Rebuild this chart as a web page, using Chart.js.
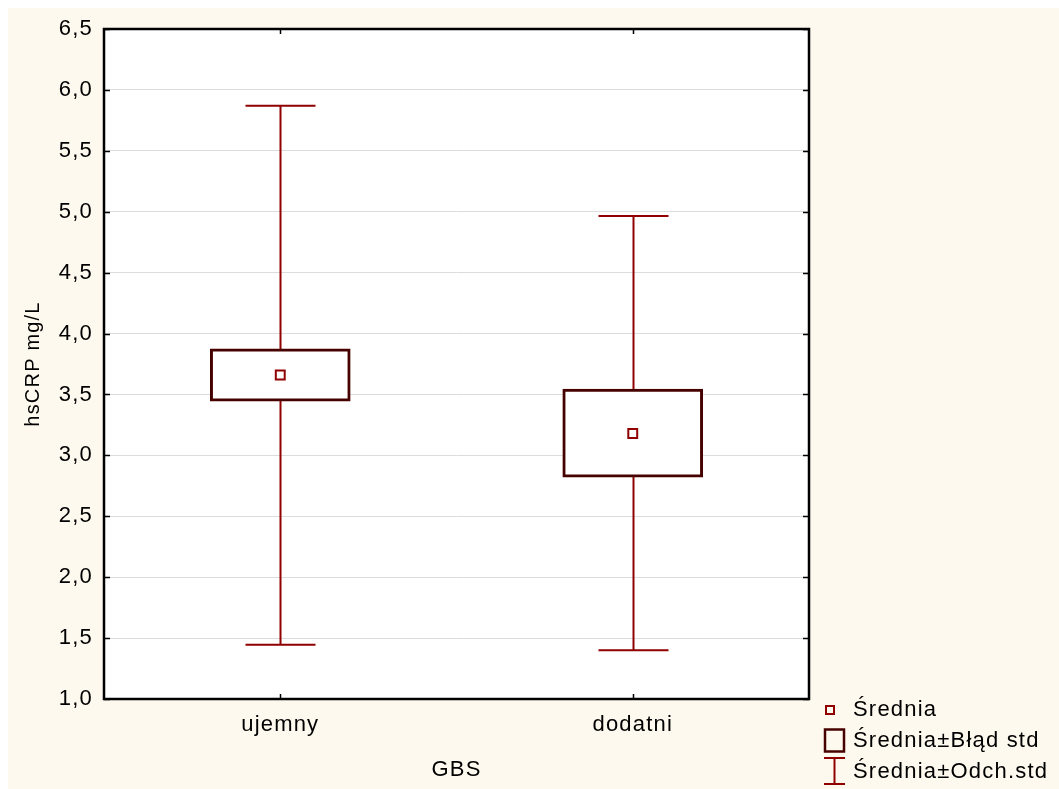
<!DOCTYPE html>
<html>
<head>
<meta charset="utf-8">
<script src="https://cdn.jsdelivr.net/npm/chart.js@4"></script>
<style>
  html, body { margin: 0; padding: 0; background: #ffffff; }
  #wrap { position: relative; width: 1059px; height: 789px; overflow: hidden; }
  #panel { position: absolute; left: 8px; top: 8px; right: 0; bottom: 0; background: #fef9ee; }
  #c { position: absolute; left: 0; top: 0; }
</style>
</head>
<body>
<div id="wrap">
  <div id="panel"></div>
  <canvas id="c" width="1059" height="789"></canvas>
</div>
<script>
// hsCRP by GBS status: mean, mean ± standard error, mean ± standard deviation
const groups = ['ujemny', 'dodatni'];
const means = [3.66, 3.18];
const seLow = [3.445, 2.82];
const seHigh = [3.875, 3.545];
const sdLow = [1.445, 1.40];
const sdHigh = [5.87, 4.965];
const yTicks = [1.0, 1.5, 2.0, 2.5, 3.0, 3.5, 4.0, 4.5, 5.0, 5.5, 6.0, 6.5];

const FONT = '"Liberation Sans", Arial, sans-serif';
const WHISKER = '#900000';
const BOXLINE = '#470000';
const MEANCOL = '#900000';
const TEXT_SIZE = 22;

const fmt = v => Number(v).toFixed(1).replace('.', ',');

// Slightly widened character spacing for all canvas text
const spacing = {
  id: 'spacing',
  beforeUpdate(chart) { chart.ctx.letterSpacing = '1.2px'; },
  beforeDraw(chart) { chart.ctx.letterSpacing = '1.2px'; }
};

// White plot area on the cream page
const plotBg = {
  id: 'plotBg',
  beforeDraw(chart) {
    const { ctx, chartArea: a } = chart;
    ctx.save();
    ctx.fillStyle = '#ffffff';
    ctx.fillRect(a.left, a.top, a.right - a.left, a.bottom - a.top);
    ctx.restore();
  }
};

// Standard-deviation whiskers, drawn under the boxes
const whiskers = {
  id: 'whiskers',
  beforeDatasetsDraw(chart) {
    const { ctx, scales: { x, y } } = chart;
    ctx.save();
    ctx.strokeStyle = WHISKER;
    ctx.lineWidth = 2;
    const half = 35;
    groups.forEach((g, i) => {
      const px = Math.round(x.getPixelForValue(i)) + 0.5;
      const lo = y.getPixelForValue(sdLow[i]);
      const hi = y.getPixelForValue(sdHigh[i]);
      ctx.beginPath();
      ctx.moveTo(px, lo); ctx.lineTo(px, hi);
      ctx.moveTo(px - half, hi); ctx.lineTo(px + half, hi);
      ctx.moveTo(px - half, lo); ctx.lineTo(px + half, lo);
      ctx.stroke();
    });
    ctx.restore();
  }
};

// Plot frame, inward tick marks and the legend
const frame = {
  id: 'frame',
  afterDraw(chart) {
    const { ctx, chartArea: a, scales: { x, y } } = chart;
    ctx.save();
    ctx.strokeStyle = '#000';
    ctx.lineWidth = 1.5;
    ctx.beginPath();
    yTicks.forEach(v => {
      const py = Math.round(y.getPixelForValue(v)) + 0.5;
      ctx.moveTo(a.left, py); ctx.lineTo(a.left + 6, py);
      ctx.moveTo(a.right, py); ctx.lineTo(a.right - 6, py);
    });
    groups.forEach((g, i) => {
      const px = Math.round(x.getPixelForValue(i)) + 0.5;
      ctx.moveTo(px, a.top); ctx.lineTo(px, a.top + 5);
      ctx.moveTo(px, a.bottom); ctx.lineTo(px, a.bottom - 5);
    });
    ctx.stroke();
    ctx.lineWidth = 2.5;
    ctx.strokeRect(a.left, a.top, a.right - a.left, a.bottom - a.top);

    // legend
    const tx = 853;
    ctx.font = TEXT_SIZE + 'px ' + FONT;
    ctx.fillStyle = '#000';
    ctx.textBaseline = 'middle';
    ctx.textAlign = 'left';
    ctx.fillText('Średnia', tx, 710);
    ctx.fillText('Średnia±Błąd std', tx, 741);
    ctx.fillText('Średnia±Odch.std', tx, 772);

    ctx.strokeStyle = MEANCOL;
    ctx.lineWidth = 2;
    ctx.strokeRect(826, 706, 8, 8);

    ctx.strokeStyle = BOXLINE;
    ctx.lineWidth = 2.5;
    ctx.strokeRect(825, 729.5, 19, 22);

    ctx.strokeStyle = WHISKER;
    ctx.lineWidth = 2;
    ctx.beginPath();
    ctx.moveTo(834.5, 758); ctx.lineTo(834.5, 784);
    ctx.moveTo(824, 758); ctx.lineTo(845, 758);
    ctx.moveTo(824, 784); ctx.lineTo(845, 784);
    ctx.stroke();
    ctx.restore();
  }
};

new Chart(document.getElementById('c'), {
  type: 'bar',
  data: {
    labels: groups,
    datasets: [
      {
        type: 'line',
        label: 'Średnia',
        data: means,
        showLine: false,
        pointStyle: 'rect',
        pointRadius: 6.3,
        pointBorderWidth: 2,
        pointBorderColor: MEANCOL,
        pointBackgroundColor: '#ffffff',
        order: 0
      },
      {
        label: 'Średnia±Błąd std',
        data: groups.map((g, i) => [seLow[i], seHigh[i]]),
        backgroundColor: '#ffffff',
        borderColor: BOXLINE,
        borderWidth: 3,
        borderSkipped: false,
        barThickness: 140,
        grouped: false,
        order: 1
      }
    ]
  },
  options: {
    responsive: false,
    devicePixelRatio: 1,
    animation: false,
    layout: { padding: { left: 0, top: 29, right: 250, bottom: 0 } },
    plugins: { legend: { display: false }, tooltip: { enabled: false } },
    scales: {
      x: {
        offset: true,
        grid: { display: false, drawTicks: false },
        border: { display: false },
        ticks: { color: '#000', font: { family: FONT, size: TEXT_SIZE }, padding: 13 },
        title: { display: true, text: 'GBS', color: '#000', font: { family: FONT, size: TEXT_SIZE }, padding: { top: 0, bottom: 6 } },
        afterFit(s) { s.height = 90; }
      },
      y: {
        min: 1,
        max: 6.5,
        afterBuildTicks(s) { s.ticks = yTicks.map(v => ({ value: v })); },
        grid: { color: '#dcdcdc', lineWidth: 1, drawTicks: false },
        border: { display: false },
        ticks: { color: '#000', font: { family: FONT, size: TEXT_SIZE }, padding: 11, callback: v => fmt(v) },
        title: { display: true, text: 'hsCRP mg/L', color: '#000', font: { family: FONT, size: 20 }, padding: { top: 21, bottom: 0 } },
        afterFit(s) { s.width = 104; }
      }
    }
  },
  plugins: [spacing, plotBg, whiskers, frame]
});
</script>
</body>
</html>
